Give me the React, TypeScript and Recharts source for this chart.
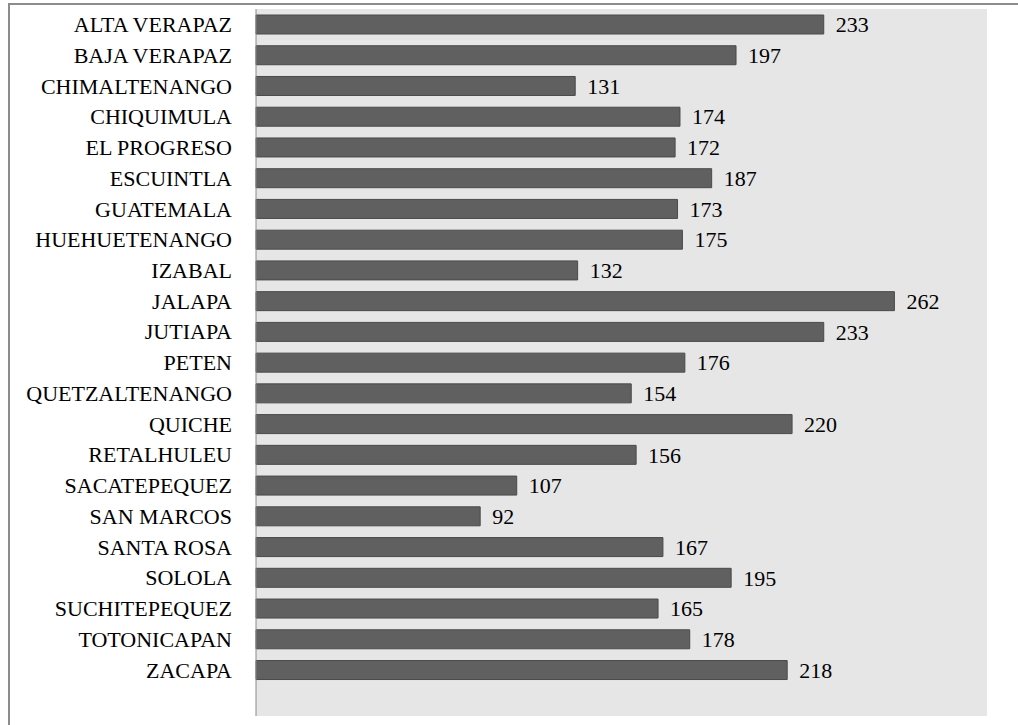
import { Bar, BarChart, CartesianGrid, LabelList, XAxis, YAxis } from "recharts";

// Departamentos (la última categoría vacía deja el hueco inferior del área gris)
const departamentos = [
  "ALTA VERAPAZ",
  "BAJA VERAPAZ",
  "CHIMALTENANGO",
  "CHIQUIMULA",
  "EL PROGRESO",
  "ESCUINTLA",
  "GUATEMALA",
  "HUEHUETENANGO",
  "IZABAL",
  "JALAPA",
  "JUTIAPA",
  "PETEN",
  "QUETZALTENANGO",
  "QUICHE",
  "RETALHULEU",
  "SACATEPEQUEZ",
  "SAN MARCOS",
  "SANTA ROSA",
  "SOLOLA",
  "SUCHITEPEQUEZ",
  "TOTONICAPAN",
  "ZACAPA",
  "",
];

const valores = [
  233, 197, 131, 174, 172, 187, 173, 175, 132, 262, 233, 176, 154, 220, 156,
  107, 92, 167, 195, 165, 178, 218, null,
];

const dominio = [0, 300];

const data = departamentos.map((d, i) => ({ depto: d, valor: valores[i] }));

const FONT = "'Liberation Serif', 'DejaVu Serif', 'Times New Roman', serif";

function Etiqueta(props: any) {
  const { x, y, payload } = props;
  return (
    <text
      x={x}
      y={y}
      dy="0.35em"
      textAnchor="end"
      fontFamily={FONT}
      fontSize={22}
      fill="#000"
    >
      {payload.value}
    </text>
  );
}

function Valor(props: any) {
  const { x, y, width, height, value } = props;
  if (value == null) return null;
  return (
    <text
      x={x + width + 12}
      y={y + height / 2}
      dy="0.35em"
      textAnchor="start"
      fontFamily={FONT}
      fontSize={22}
      fill="#000"
    >
      {value}
    </text>
  );
}

export default function App() {
  return (
    <div
      style={{
        position: "fixed",
        left: 0,
        top: 0,
        width: 1018,
        height: 725,
        background: "#fff",
        overflow: "hidden",
        fontFamily: FONT,
      }}
    >
      <div style={{ position: "absolute", left: 8, top: 3, width: 1010, height: 2, background: "#8c8c8c" }} />
      <div style={{ position: "absolute", left: 8, top: 3, width: 2, height: 722, background: "#8c8c8c" }} />
      <BarChart
        width={1018}
        height={725}
        data={data}
        layout="vertical"
        margin={{ top: 9, right: 31, bottom: 9, left: 0 }}
        barSize={19}
      >
        <CartesianGrid fill="#e6e6e6" horizontal={false} vertical={false} />
        <XAxis type="number" domain={dominio} hide />
        <YAxis
          type="category"
          dataKey="depto"
          width={256}
          axisLine={{ stroke: "#8a8a8a", strokeWidth: 1 }}
          tickLine={false}
          tickSize={0}
          tickMargin={24}
          interval={0}
          tick={<Etiqueta />}
        />
        <Bar
          dataKey="valor"
          fill="#606060"
          stroke="#4a4a4a"
          strokeWidth={1}
          isAnimationActive={false}
        >
          <LabelList dataKey="valor" content={<Valor />} />
        </Bar>
      </BarChart>
    </div>
  );
}
